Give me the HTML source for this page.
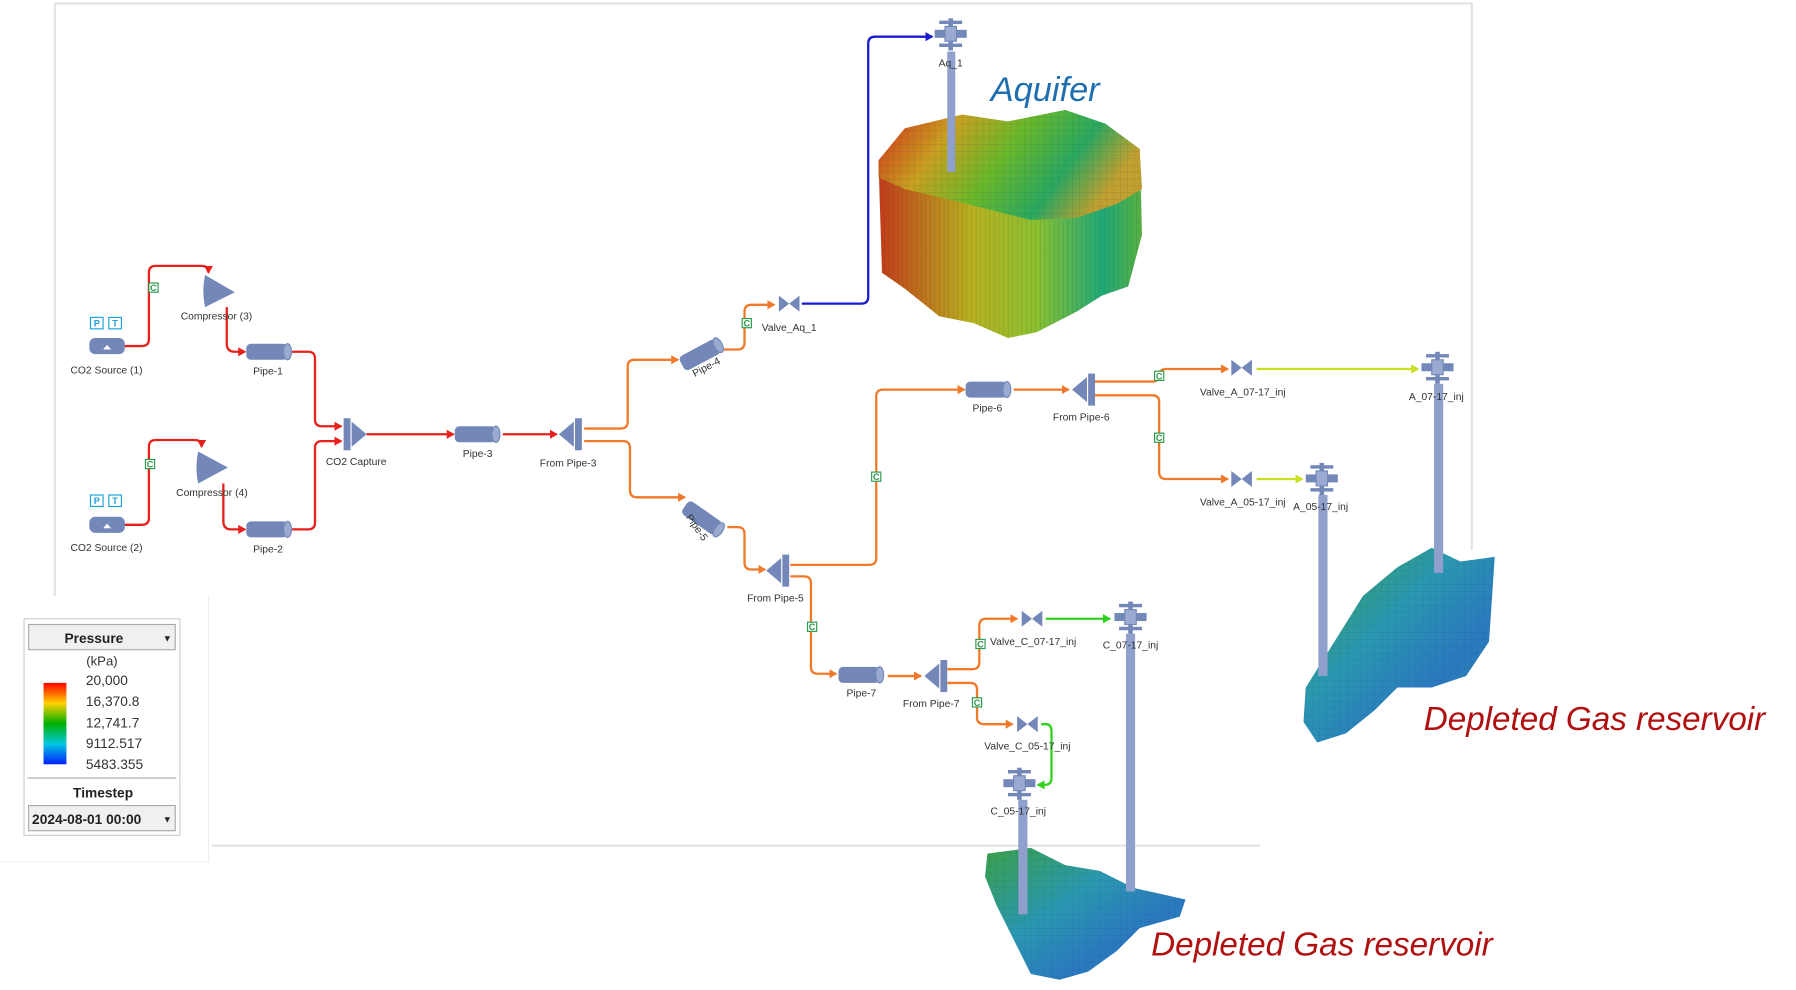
<!DOCTYPE html>
<html><head><meta charset="utf-8"><style>
html,body{margin:0;padding:0;background:#fff;width:1796px;height:990px;overflow:hidden}
svg{display:block}
text{font-family:"Liberation Sans",sans-serif}
.l{font-size:9px;fill:#333;text-anchor:middle}
.r{fill:none;stroke:#e8201c;stroke-width:2}
.o{fill:none;stroke:#f07a2a;stroke-width:2}
.n{fill:#7388b8}
.c{fill:#fff;stroke:#2a9a4a;stroke-width:1}
.ct{font-size:8px;fill:#2a9a4a;text-anchor:middle;font-weight:bold}
.bar{fill:#8fa0cc}
</style></head><body>
<svg width="1796" height="990" viewBox="0 0 1568 864" preserveAspectRatio="none">
<defs>
<linearGradient id="aq" x1="0" y1="0" x2="1" y2="0.3"><stop offset="0" stop-color="#d0281a"/><stop offset="0.3" stop-color="#c9a020"/><stop offset="0.55" stop-color="#6ab82a"/><stop offset="0.8" stop-color="#2aa860"/><stop offset="1" stop-color="#c0a030"/></linearGradient>
<linearGradient id="aqs" x1="0" y1="0" x2="1" y2="0"><stop offset="0" stop-color="#c23a1a"/><stop offset="0.35" stop-color="#b8b020"/><stop offset="0.6" stop-color="#8cc030"/><stop offset="0.85" stop-color="#20a878"/><stop offset="1" stop-color="#58b040"/></linearGradient>
<linearGradient id="gs" x1="0" y1="0" x2="1" y2="1"><stop offset="0" stop-color="#3aa048"/><stop offset="0.4" stop-color="#2a98b0"/><stop offset="0.7" stop-color="#2a78c0"/><stop offset="1" stop-color="#30a0a0"/></linearGradient>
<linearGradient id="leg" x1="0" y1="0" x2="0" y2="1"><stop offset="0" stop-color="#ff0000"/><stop offset="0.25" stop-color="#ffd000"/><stop offset="0.5" stop-color="#00b000"/><stop offset="0.75" stop-color="#00c8e0"/><stop offset="1" stop-color="#0020ff"/></linearGradient>
<pattern id="grid" width="6" height="6" patternUnits="userSpaceOnUse"><path d="M0 0H6M0 0V6" stroke="#123" stroke-opacity="0.35" stroke-width="0.6" fill="none"/></pattern>
<pattern id="vgrid" width="4" height="10" patternUnits="userSpaceOnUse"><path d="M0 0V10" stroke="#143" stroke-opacity="0.35" stroke-width="0.6" fill="none"/></pattern>
<marker id="ar" markerWidth="8" markerHeight="8" refX="6" refY="4" orient="auto" markerUnits="userSpaceOnUse"><path d="M0 0L7 4L0 8z" fill="#e8201c"/></marker>
<marker id="ao" markerWidth="8" markerHeight="8" refX="6" refY="4" orient="auto" markerUnits="userSpaceOnUse"><path d="M0 0L7 4L0 8z" fill="#f07a2a"/></marker>
<marker id="ab" markerWidth="8" markerHeight="8" refX="6" refY="4" orient="auto" markerUnits="userSpaceOnUse"><path d="M0 0L7 4L0 8z" fill="#1a1ad0"/></marker>
<marker id="ay" markerWidth="8" markerHeight="8" refX="6" refY="4" orient="auto" markerUnits="userSpaceOnUse"><path d="M0 0L7 4L0 8z" fill="#c8e020"/></marker>
<marker id="ag" markerWidth="8" markerHeight="8" refX="6" refY="4" orient="auto" markerUnits="userSpaceOnUse"><path d="M0 0L7 4L0 8z" fill="#30d020"/></marker>
<g id="pipe"><rect x="0" y="0" width="36" height="14" rx="4" class="n"/><ellipse cx="36" cy="7" rx="3.5" ry="7" fill="#9aaad0" stroke="#7388b8"/></g>
<g id="valve"><path d="M0 0L9 7L0 14zM18 0L9 7L18 14z" class="n"/></g>
<g id="well"><rect x="12" y="0" width="4" height="28" class="n"/><rect x="4" y="2" width="20" height="3" class="n"/><rect x="4" y="22" width="20" height="3" class="n"/><rect x="0" y="10" width="28" height="7" class="n"/><rect x="9" y="7" width="10" height="13" fill="#9aaad0" stroke="#7388b8"/></g>
<g id="cbox"><rect x="-4" y="-4" width="8" height="8" class="c"/><text x="0" y="3" class="ct">C</text></g>
</defs>
<path d="M48 3H1285V480" fill="none" stroke="#e4e4e4" stroke-width="2"/>
<path d="M48 3V520" fill="none" stroke="#e4e4e4" stroke-width="2"/>
<path d="M185 738H1100" fill="none" stroke="#e4e4e4" stroke-width="2"/>

<!-- Aquifer block -->
<path d="M767 140 L790 112 L840 100 L880 106 L930 96 L965 108 L995 130 L997 205 L985 250 L962 258 L940 272 L905 290 L880 295 L850 282 L820 276 L790 252 L770 238Z" fill="url(#aqs)"/>
<path d="M767 140 L790 112 L840 100 L880 106 L930 96 L965 108 L995 130 L997 165 L975 178 L940 190 L900 192 L860 182 L820 172 L790 165 L767 155Z" fill="url(#aq)"/>
<path d="M767 150 L790 165 L820 172 L860 182 L900 192 L940 190 L975 178 L997 165 L997 205 L985 250 L962 258 L940 272 L905 290 L880 295 L850 282 L820 276 L790 252 L770 238Z" fill="url(#vgrid)"/>
<path d="M767 140 L790 112 L840 100 L880 106 L930 96 L965 108 L995 130 L997 165 L975 178 L940 190 L900 192 L860 182 L820 172 L790 165 L767 155Z" fill="url(#grid)" opacity="0.6"/>

<!-- right gas reservoir -->
<path d="M1165 560 L1190 520 L1220 495 L1250 478 L1275 490 L1305 486 L1300 560 L1280 590 L1250 600 L1220 600 L1200 620 L1175 640 L1150 648 L1138 630 L1140 600Z" fill="url(#gs)"/>
<path d="M1165 560 L1190 520 L1220 495 L1250 478 L1275 490 L1305 486 L1300 560 L1280 590 L1250 600 L1220 600 L1200 620 L1175 640 L1150 648 L1138 630 L1140 600Z" fill="url(#grid)" opacity="0.5"/>
<!-- bottom gas reservoir -->
<path d="M862 745 L900 740 L930 755 L960 760 L990 775 L1035 785 L1030 800 L995 810 L975 830 L950 848 L925 855 L900 850 L885 820 L870 790 L860 765Z" fill="url(#gs)"/>
<path d="M862 745 L900 740 L930 755 L960 760 L990 775 L1035 785 L1030 800 L995 810 L975 830 L950 848 L925 855 L900 850 L885 820 L870 790 L860 765Z" fill="url(#grid)" opacity="0.5"/>

<rect x="827" y="45" width="7" height="105" class="bar"/>
<rect x="1252" y="335" width="8" height="165" class="bar"/>
<rect x="1151" y="432" width="8" height="158" class="bar"/>
<rect x="983" y="553" width="8" height="225" class="bar"/>
<rect x="889" y="698" width="8" height="100" class="bar"/>

<path class="r" d="M108 302H124Q130 302 130 296V238Q130 232 136 232H176Q182 232 182 238" marker-end="url(#ar)"/>
<path class="r" d="M198 268V300Q198 307 205 307H214" marker-end="url(#ar)"/>
<path class="r" d="M255 307H269Q275 307 275 313V366Q275 372 281 372H298" marker-end="url(#ar)"/>
<path class="r" d="M108 458H124Q130 458 130 452V390Q130 384 136 384H170Q176 384 176 390" marker-end="url(#ar)"/>
<path class="r" d="M195 422V455Q195 462 202 462H214" marker-end="url(#ar)"/>
<path class="r" d="M255 462H269Q275 462 275 456V391Q275 385 281 385H298" marker-end="url(#ar)"/>
<path class="r" d="M320 379H396" marker-end="url(#ar)"/>
<path class="r" d="M439 379H486" marker-end="url(#ar)"/>
<path class="o" d="M510 374H542Q548 374 548 368V320Q548 314 554 314H592" marker-end="url(#ao)"/>
<path class="o" d="M632 305H644Q650 305 650 299V272Q650 266 656 266H676" marker-end="url(#ao)"/>
<path class="o" d="M510 385H544Q550 385 550 391V428Q550 434 556 434H598" marker-end="url(#ao)"/>
<path class="o" d="M635 460H644Q650 460 650 466V491Q650 497 656 497H668" marker-end="url(#ao)"/>
<path class="o" d="M690 493H759Q765 493 765 487V346Q765 340 771 340H842" marker-end="url(#ao)"/>
<path class="o" d="M885 340H933" marker-end="url(#ao)"/>
<path class="o" d="M956 333H1006Q1012 333 1012 327V328Q1012 322 1018 322H1072" marker-end="url(#ao)"/>
<path class="o" d="M956 345H1006Q1012 345 1012 351V412Q1012 418 1018 418H1072" marker-end="url(#ao)"/>
<path class="o" d="M690 503H702Q708 503 708 509V582Q708 588 714 588H730" marker-end="url(#ao)"/>
<path class="o" d="M775 590H804" marker-end="url(#ao)"/>
<path class="o" d="M827 584H849Q855 584 855 578V546Q855 540 861 540H888" marker-end="url(#ao)"/>
<path class="o" d="M827 596H847Q853 596 853 602V626Q853 632 859 632H884" marker-end="url(#ao)"/>
<path d="M700 265H752Q758 265 758 259V38Q758 32 764 32H814" fill="none" stroke="#1a1ad0" stroke-width="2" marker-end="url(#ab)"/>
<path d="M1097 322H1238" fill="none" stroke="#c8e020" stroke-width="2" marker-end="url(#ay)"/>
<path d="M1097 418H1137" fill="none" stroke="#c8e020" stroke-width="2" marker-end="url(#ay)"/>
<path d="M913 540H969" fill="none" stroke="#30d020" stroke-width="2" marker-end="url(#ag)"/>
<path d="M909 632H913Q918 632 918 638V679Q918 685 912 685H906" fill="none" stroke="#30d020" stroke-width="2" marker-end="url(#ag)"/>

<g><rect x="79" y="277" width="11" height="10" fill="#fff" stroke="#1aa0d8"/><text x="84.5" y="285" font-size="8" fill="#1aa0d8" text-anchor="middle" font-weight="bold">P</text><rect x="95" y="277" width="11" height="10" fill="#fff" stroke="#1aa0d8"/><text x="100.5" y="285" font-size="8" fill="#1aa0d8" text-anchor="middle" font-weight="bold">T</text>
<rect x="78" y="295" width="31" height="14" rx="5" class="n"/><path d="M90 305L93.5 301L97 305z" fill="#fff"/></g>
<text x="93" y="326" class="l">CO2 Source (1)</text>
<g><rect x="79" y="432" width="11" height="10" fill="#fff" stroke="#1aa0d8"/><text x="84.5" y="440" font-size="8" fill="#1aa0d8" text-anchor="middle" font-weight="bold">P</text><rect x="95" y="432" width="11" height="10" fill="#fff" stroke="#1aa0d8"/><text x="100.5" y="440" font-size="8" fill="#1aa0d8" text-anchor="middle" font-weight="bold">T</text>
<rect x="78" y="451" width="31" height="14" rx="5" class="n"/><path d="M90 461L93.5 457L97 461z" fill="#fff"/></g>
<text x="93" y="481" class="l">CO2 Source (2)</text>
<path d="M179 240Q176 254 179 268L205 255Z" class="n"/><text x="189" y="279" class="l">Compressor (3)</text>
<path d="M173 394Q170 408 173 422L199 408Z" class="n"/><text x="185" y="433" class="l">Compressor (4)</text>
<use href="#cbox" x="134" y="251"/><use href="#cbox" x="131" y="405"/>
<use href="#pipe" x="215" y="300"/><text x="234" y="327" class="l">Pipe-1</text>
<use href="#pipe" x="215" y="455"/><text x="234" y="482" class="l">Pipe-2</text>
<use href="#pipe" x="397" y="372"/><text x="417" y="399" class="l">Pipe-3</text>
<g transform="translate(300 365)"><rect x="0" y="0" width="6" height="28" class="n"/><path d="M7 3L20 14L7 25z" class="n"/></g><text x="311" y="406" class="l">CO2 Capture</text>
<g transform="translate(508 365) scale(-1 1)"><rect x="0" y="0" width="6" height="28" class="n"/><path d="M7 3L20 14L7 25z" class="n"/></g>
<text x="496" y="407" class="l">From Pipe-3</text>
<use href="#pipe" transform="translate(592 312) rotate(-28)"/><text class="l" transform="translate(618 323) rotate(-28)">Pipe-4</text>
<use href="#pipe" transform="translate(602 436) rotate(35)"/><text class="l" transform="translate(606 462) rotate(55)">Pipe-5</text>
<use href="#cbox" x="652" y="282"/>
<use href="#valve" x="680" y="258"/><text x="689" y="289" class="l">Valve_Aq_1</text>
<use href="#well" x="816" y="16"/><text x="830" y="58" class="l">Aq_1</text>
<g transform="translate(689 484) scale(-1 1)"><rect x="0" y="0" width="6" height="28" class="n"/><path d="M7 3L20 14L7 25z" class="n"/></g>
<text x="677" y="525" class="l">From Pipe-5</text>
<use href="#cbox" x="765" y="416"/><use href="#cbox" x="709" y="547"/>
<use href="#pipe" x="843" y="333"/><text x="862" y="359" class="l">Pipe-6</text>
<g transform="translate(956 326) scale(-1 1)"><rect x="0" y="0" width="6" height="28" class="n"/><path d="M7 3L20 14L7 25z" class="n"/></g>
<text x="944" y="367" class="l">From Pipe-6</text>
<use href="#cbox" x="1012" y="328"/><use href="#cbox" x="1012" y="382"/>
<use href="#valve" x="1075" y="314"/><text x="1085" y="345" class="l">Valve_A_07-17_inj</text>
<use href="#valve" x="1075" y="411"/><text x="1085" y="441" class="l">Valve_A_05-17_inj</text>
<use href="#well" x="1241" y="307"/><text x="1254" y="349" class="l">A_07-17_inj</text>
<use href="#well" x="1140" y="404"/><text x="1153" y="445" class="l">A_05-17_inj</text>
<use href="#pipe" x="732" y="582"/><text x="752" y="608" class="l">Pipe-7</text>
<g transform="translate(827 576) scale(-1 1)"><rect x="0" y="0" width="6" height="28" class="n"/><path d="M7 3L20 14L7 25z" class="n"/></g>
<text x="813" y="617" class="l">From Pipe-7</text>
<use href="#cbox" x="856" y="562"/><use href="#cbox" x="853" y="613"/>
<use href="#valve" x="892" y="533"/><text x="902" y="563" class="l">Valve_C_07-17_inj</text>
<use href="#valve" x="888" y="625"/><text x="897" y="654" class="l">Valve_C_05-17_inj</text>
<use href="#well" x="973" y="525"/><text x="987" y="566" class="l">C_07-17_inj</text>
<use href="#well" x="876" y="670"/><text x="889" y="711" class="l">C_05-17_inj</text>

<text x="865" y="88" font-size="30" font-style="italic" fill="#1f6fb0">Aquifer</text>
<text x="1243" y="637" font-size="29" font-style="italic" fill="#b01010">Depleted Gas reservoir</text>
<text x="1005" y="834" font-size="29" font-style="italic" fill="#b01010">Depleted Gas reservoir</text>

<rect x="0" y="520" width="182" height="232" fill="#fff"/>
<path d="M182 520V752H0" fill="none" stroke="#eee"/>
<rect x="21" y="540" width="136" height="189" fill="#fff" stroke="#ccc"/>
<rect x="25" y="545" width="128" height="22" fill="#f0f0f0" stroke="#aaa"/>
<text x="82" y="561" font-size="12" font-weight="bold" text-anchor="middle" fill="#222">Pressure</text>
<text x="146" y="560" font-size="8" fill="#222" text-anchor="middle">▼</text>
<text x="89" y="581" font-size="11.5" fill="#333" text-anchor="middle">(kPa)</text>
<rect x="38" y="596" width="20" height="71" fill="url(#leg)"/>
<g font-size="12" fill="#333"><text x="75" y="598">20,000</text><text x="75" y="616">16,370.8</text><text x="75" y="635">12,741.7</text><text x="75" y="653">9112.517</text><text x="75" y="671">5483.355</text></g>
<line x1="24" y1="679" x2="154" y2="679" stroke="#aaa"/>
<text x="90" y="696" font-size="12" font-weight="bold" text-anchor="middle" fill="#222">Timestep</text>
<rect x="25" y="703" width="128" height="22" fill="#f0f0f0" stroke="#aaa"/>
<text x="28" y="719" font-size="12" font-weight="bold" fill="#222">2024-08-01 00:00</text>
<text x="146" y="718" font-size="8" fill="#222" text-anchor="middle">▼</text>
</svg>
</body></html>
